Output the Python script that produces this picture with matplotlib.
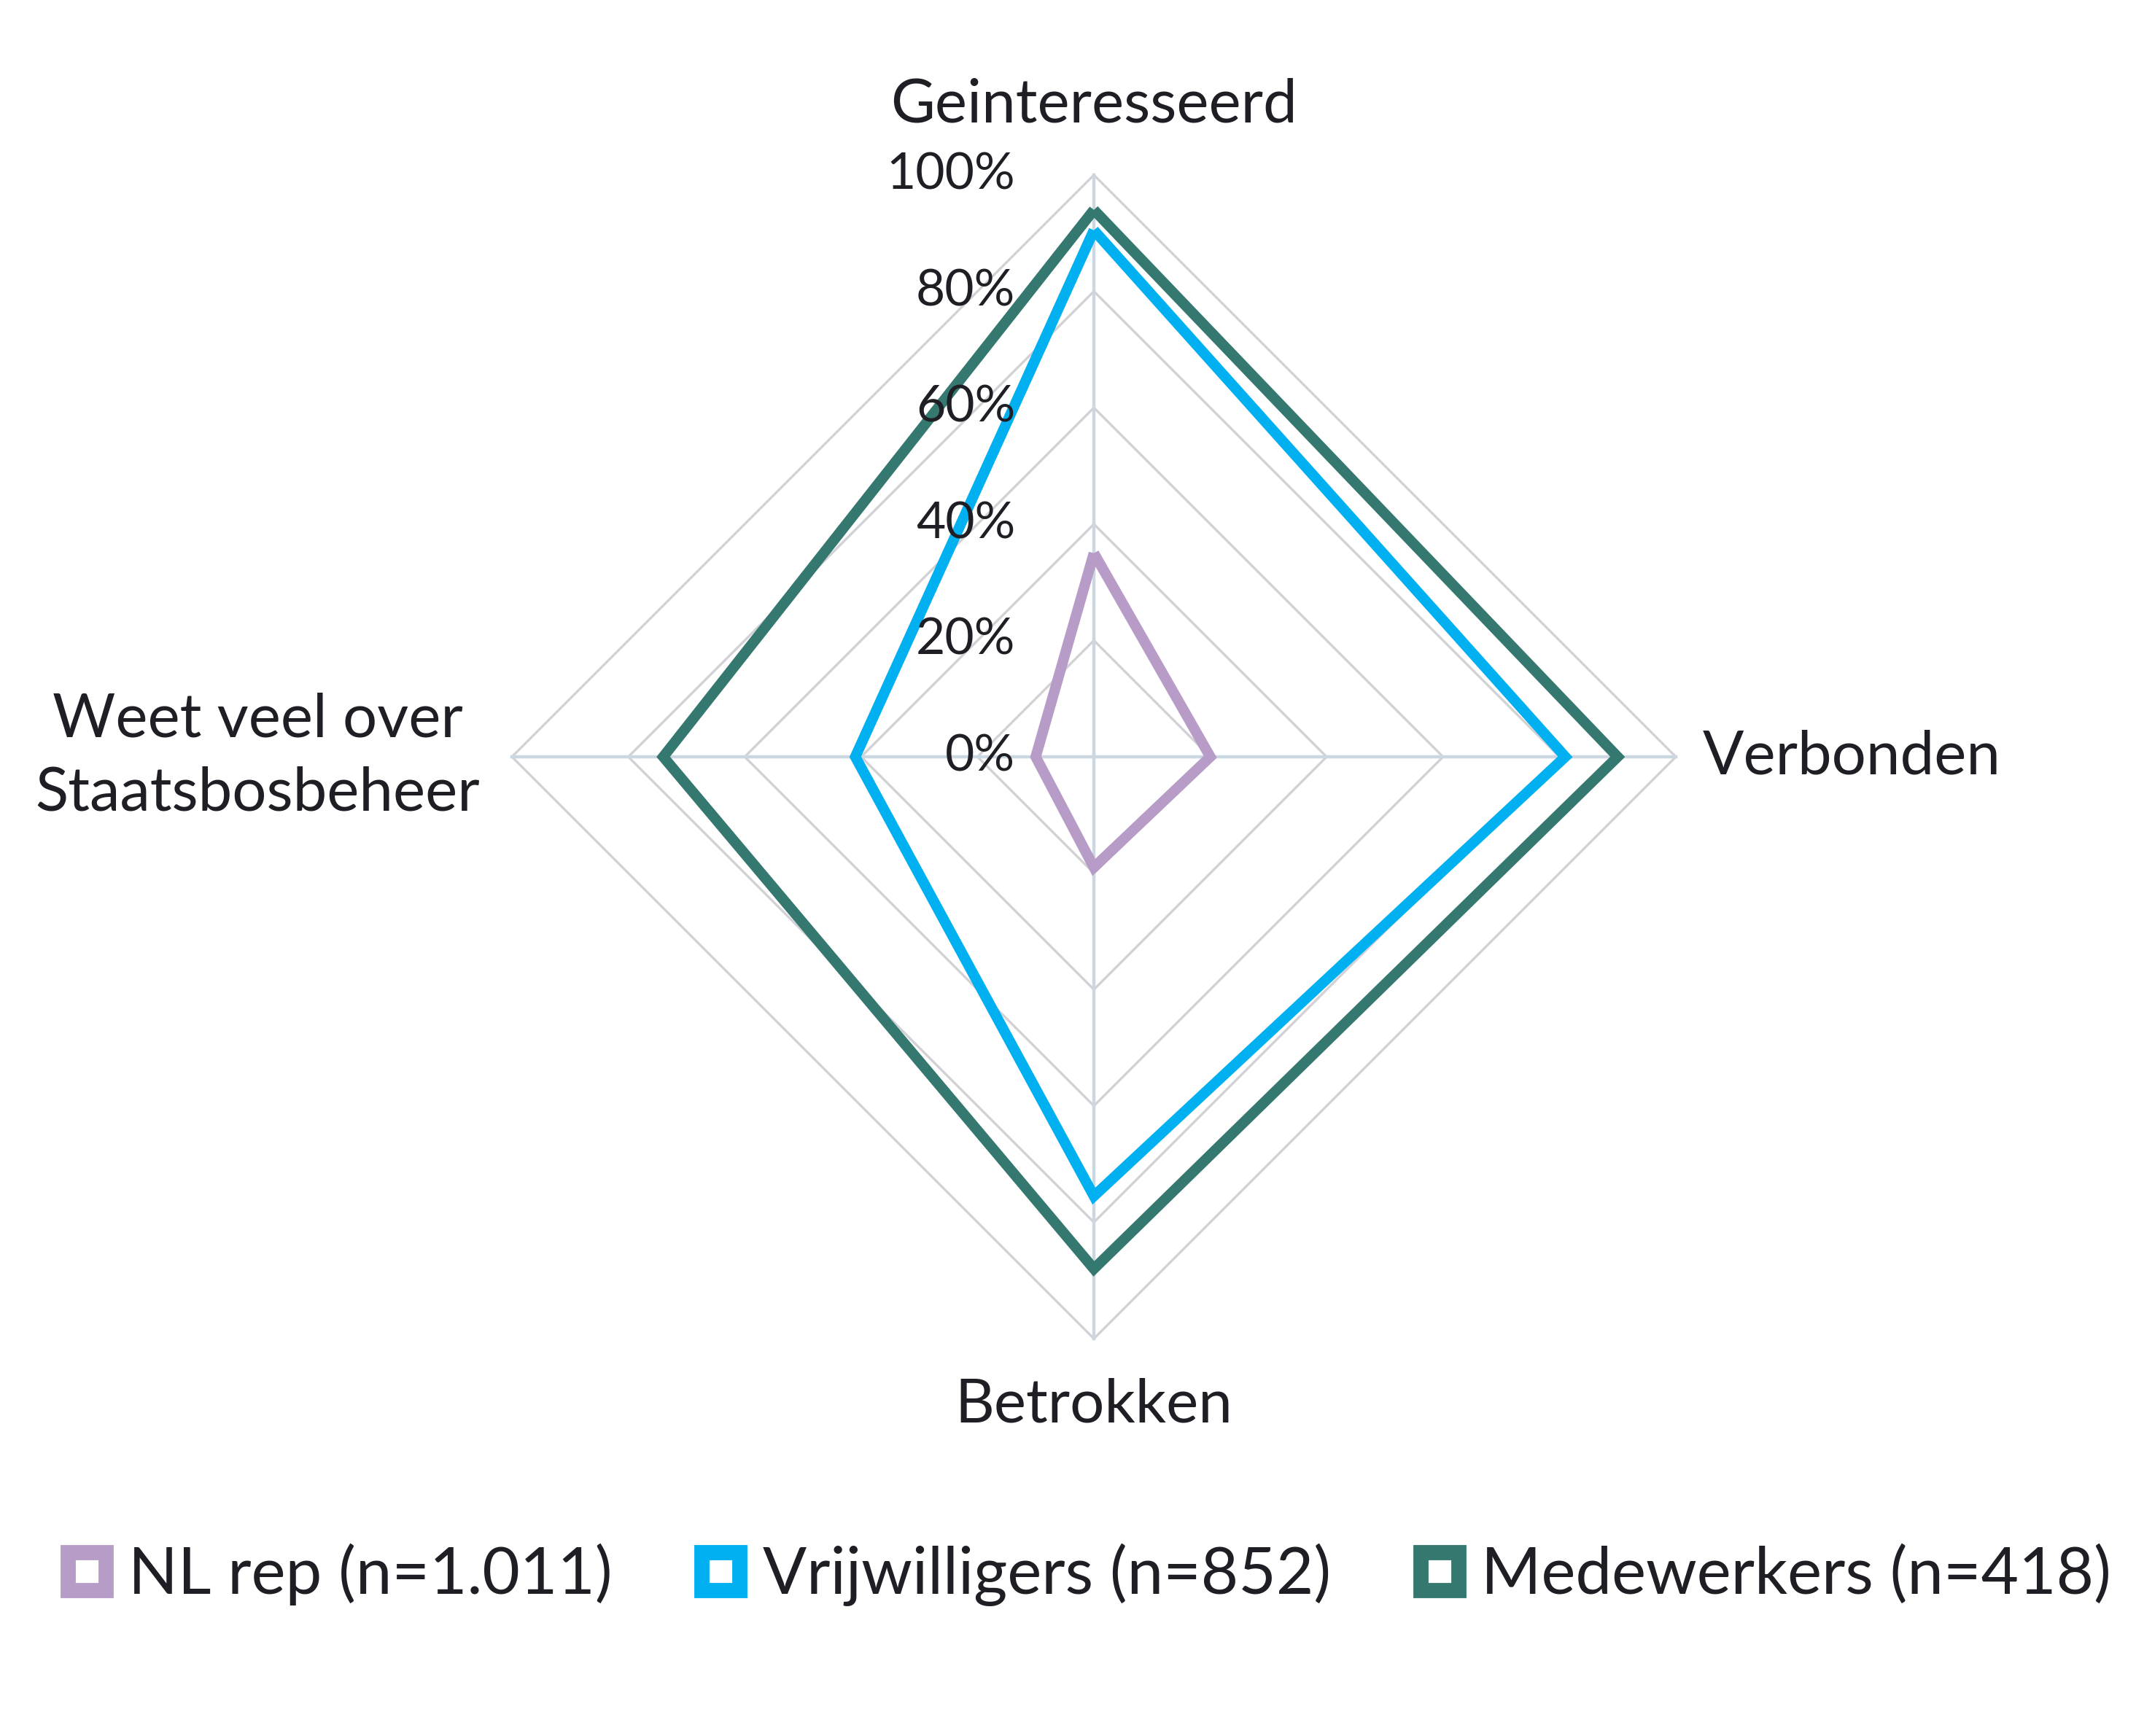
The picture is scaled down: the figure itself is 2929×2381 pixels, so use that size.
import numpy as np
import matplotlib
matplotlib.use("Agg")
import matplotlib.pyplot as plt
from matplotlib.lines import Line2D

# ---- data ----
categories = ["Geinteresseerd", "Verbonden", "Betrokken", "Weet veel over\nStaatsbosbeheer"]
series_names = ["NL rep (n=1.011)", "Vrijwilligers (n=852)", "Medewerkers (n=418)"]
nl_rep = [35, 20, 19, 10]
vrijwilligers = [90.5, 81, 75.5, 41]
medewerkers = [94, 90, 88, 74]
tick_values = [0, 20, 40, 60, 80, 100]
tick_labels = ["0%", "20%", "40%", "60%", "80%", "100%"]

colors = ["#B89CC8", "#00B0F0", "#35786F"]
ring_color = "#D2D2D6"
spoke_color = "#CBD7E1"
text_color = "#1E1E24"

plt.rcParams['font.family'] = ['Lato', 'DejaVu Sans']

W, H, DPI = 2929, 2381, 200
fig = plt.figure(figsize=(W / DPI, H / DPI), dpi=DPI)

# axes placement (pixel geometry of the radar)
cx, cy, R = 1500, 1038, 798
lim = 1.05
ax = fig.add_axes([(cx - lim * R) / W, (H - cy - lim * R) / H, 2 * lim * R / W, 2 * lim * R / H])
ax.set_xlim(-lim * 100, lim * 100)
ax.set_ylim(-lim * 100, lim * 100)
ax.set_aspect('equal')
ax.axis('off')

n = len(categories)
theta = np.arange(n) * 2 * np.pi / n  # clockwise from top


def to_xy(vals):
    v = np.asarray(vals, dtype=float)
    v = np.append(v, v[0])
    t = np.append(theta, theta[0])
    return v * np.sin(t), v * np.cos(t)


# rings
for tv in tick_values[1:]:
    x, y = to_xy([tv] * n)
    ax.plot(x, y, color=ring_color, lw=1.2, zorder=1, solid_joinstyle='miter')
# spokes
for t in theta:
    ax.plot([0, 100 * np.sin(t)], [0, 100 * np.cos(t)], color=spoke_color, lw=1.6, zorder=1.5)

# series
for vals, c in zip([nl_rep, vrijwilligers, medewerkers], colors):
    x, y = to_xy(vals)
    ax.plot(x, y, color=c, lw=5.2, zorder=3, solid_joinstyle='miter', solid_capstyle='butt')

# radial tick labels
for tv, tl in zip(tick_values, tick_labels):
    ax.text(-13.5, tv, tl, ha='right', va='center', fontsize=25, color=text_color, zorder=4)

# category labels
fs = 30
ax.text(0, 112, categories[0], ha='center', va='center', fontsize=fs, color=text_color)
ax.text(104.6, 0, categories[1], ha='left', va='center', fontsize=fs, color=text_color)
ax.text(0, -111.5, categories[2], ha='center', va='center', fontsize=fs, color=text_color)
ax.text(-105.5, 0, categories[3], ha='right', va='center', fontsize=fs, color=text_color,
        multialignment='center', linespacing=1.4)

# legend
handles = [Line2D([], [], linestyle='none', marker='s', markersize=19, markeredgewidth=7.5,
                  markerfacecolor='white', markeredgecolor=c) for c in colors]
fig.legend(handles, series_names, loc='center', bbox_to_anchor=(0.508, 0.093), ncol=3,
           frameon=False, fontsize=32, handlelength=0.85, handletextpad=0.22,
           columnspacing=1.25, labelcolor=text_color)

fig.savefig("out.png", dpi=DPI, facecolor='white')
